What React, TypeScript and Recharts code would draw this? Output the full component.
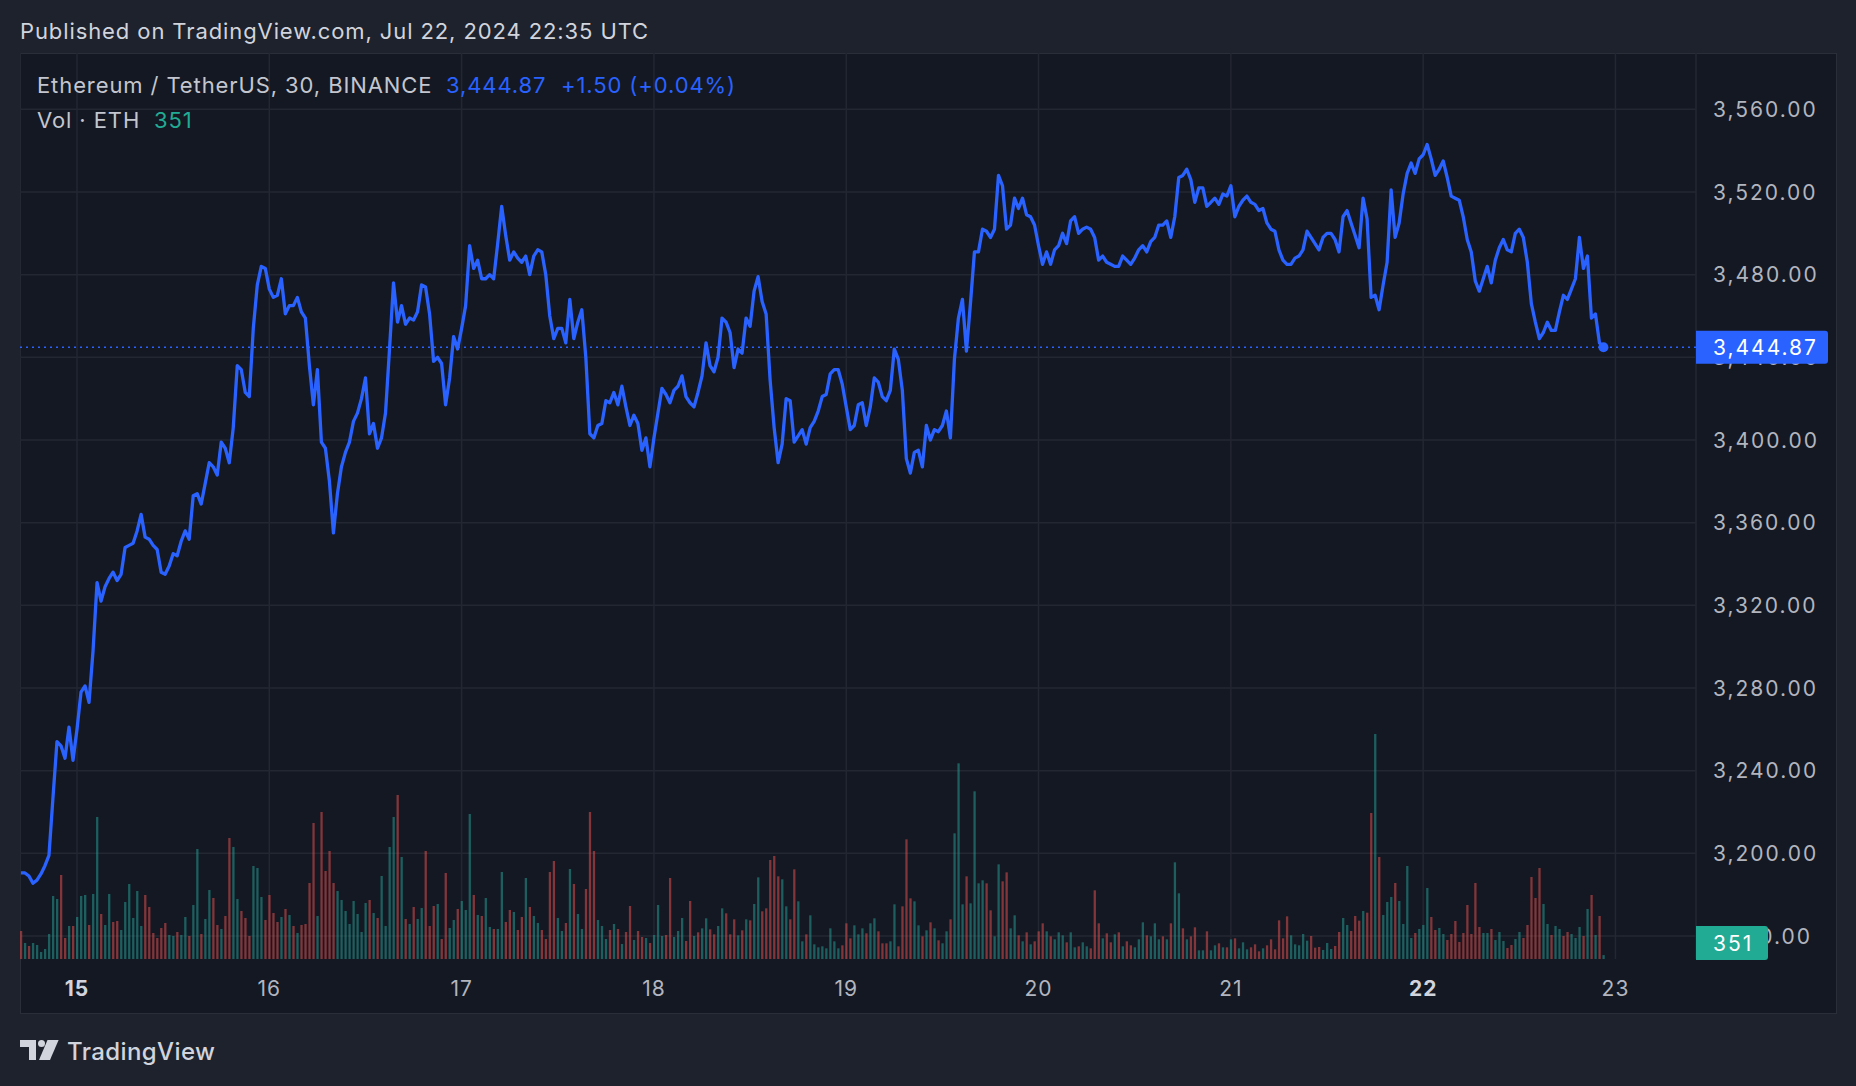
import React from "react";
import {Bar, CartesianGrid, Cell, ComposedChart, Line, ReferenceDot, ReferenceLine, XAxis, YAxis} from "recharts";

const FONT = "Inter, 'Noto Sans', sans-serif";

// 30 min bars, index 0 = Jul 15 00:00 UTC
const firstBar = -14;

const closes = [
	3190.5, 3190.5, 3189, 3185.5, 3187, 3190, 3194, 3199, 3227, 3254, 3252, 3246, 3261, 3245,
	3260, 3278, 3281, 3273, 3298, 3331, 3322, 3329, 3333, 3336,
	3332, 3335, 3348, 3349, 3350, 3356, 3364, 3353, 3352, 3349,
	3347, 3336, 3335, 3339, 3345, 3344, 3351, 3356, 3352, 3373,
	3374, 3369, 3379, 3389, 3387, 3383, 3399, 3396, 3389, 3406,
	3436, 3434, 3423, 3421, 3454, 3475, 3484, 3483, 3473, 3469,
	3470, 3478, 3461, 3465, 3465, 3469, 3462, 3459, 3436, 3417,
	3434, 3399, 3396, 3380, 3355, 3374, 3387,
	3394, 3399, 3409, 3413, 3420, 3430, 3403, 3408, 3396, 3401,
	3413, 3444, 3476, 3457, 3465, 3456, 3459, 3458, 3462, 3475,
	3474, 3461, 3438, 3440, 3437, 3417, 3430, 3450, 3444, 3454,
	3465, 3494, 3483, 3487, 3478, 3478, 3480, 3478, 3495, 3513,
	3499, 3487, 3491, 3488, 3486, 3489, 3480, 3489, 3492, 3491,
	3480, 3460, 3449, 3454, 3454, 3447, 3468, 3449, 3457, 3463,
	3440, 3403, 3401, 3407, 3408, 3419, 3418, 3423, 3417, 3426,
	3416, 3407, 3412, 3408, 3395, 3401,
	3387, 3401, 3413, 3425, 3422, 3418, 3424, 3426, 3431, 3421,
	3418, 3416, 3423, 3431, 3447, 3436, 3433, 3440, 3459, 3457,
	3452, 3435, 3444, 3442, 3459, 3455, 3472, 3479, 3467, 3461,
	3429, 3406, 3389, 3398, 3420, 3419, 3399, 3402, 3405, 3398,
	3406, 3409, 3414, 3421, 3422, 3432, 3434, 3434, 3427, 3416,
	3405, 3407, 3417, 3418, 3407, 3416, 3430, 3428, 3421, 3419,
	3424, 3444, 3439, 3424, 3391, 3384, 3394, 3395, 3387, 3407,
	3400, 3405, 3404, 3407, 3414, 3401, 3439, 3459, 3468, 3443,
	3466, 3491, 3491,
	3502, 3501, 3498, 3502, 3528, 3523, 3502, 3504, 3517, 3512,
	3517, 3509, 3508, 3504, 3494, 3485, 3491, 3485, 3492, 3494,
	3500, 3495, 3506, 3508, 3500, 3502, 3503, 3502, 3498, 3487,
	3489, 3486, 3485, 3484, 3484, 3489, 3487, 3485, 3488, 3492,
	3494, 3491, 3496, 3498, 3504, 3504, 3506, 3498, 3508, 3527,
	3528, 3531, 3526, 3515, 3522, 3522, 3513, 3515, 3517, 3514,
	3519, 3518, 3523, 3508, 3513, 3516, 3518, 3515, 3514, 3511,
	3512, 3505, 3502, 3501, 3492, 3487, 3485, 3485, 3488, 3489,
	3492, 3501, 3498, 3495, 3492, 3498, 3500, 3500, 3497, 3491,
	3508, 3511, 3505, 3499, 3493, 3517, 3507, 3469, 3470, 3463,
	3475, 3486, 3521, 3498, 3505, 3519, 3529, 3534, 3529, 3536,
	3538, 3543, 3536, 3528, 3531, 3535, 3527, 3518, 3517, 3516,
	3508, 3497, 3491, 3477, 3472, 3478, 3484, 3476, 3487, 3493,
	3497, 3492, 3491, 3500, 3502, 3498, 3486, 3466, 3457, 3449,
	3452, 3457, 3453, 3453, 3462, 3470, 3468, 3473, 3478, 3498,
	3483, 3489, 3459, 3461, 3447, 3444.87,
];

const volumes = [
	2520, 1440, 1170, 1440, 1260, 630, 900, 2250, 5670, 5400, 7560, 1890, 2970, 2970,
	3780, 5670, 5760, 3060, 5850, 12780, 4050, 3060, 5850, 3330,
	3420, 2610, 5130, 6750, 3690, 6120, 2970, 5760, 4680, 2340,
	1890, 2790, 3240, 2160, 2070, 2430, 2160, 3780, 2070, 4860,
	9900, 2250, 3600, 6210, 5490, 3060, 2700, 3870, 10890, 10080,
	5400, 4320, 3690, 2070, 8370, 8190, 5580, 3510, 5760, 4140,
	3330, 3780, 4500, 3960, 2970, 2340, 3060, 3150, 6840, 12240,
	3870, 13230, 7920, 9720, 6840, 6120, 5310, 4320, 3150, 5220,
	4050, 2430, 5040, 5310, 4140, 3690, 7470, 2970, 10080, 12780,
	14760, 9180, 3600, 3150, 4680, 3600, 4590, 9720, 2970, 4770,
	4950, 1800, 7740, 2790, 3510, 4500, 5220, 4410, 13050, 5760,
	3960, 3870, 5490, 2880, 2700, 2700, 7830, 3330, 4410, 4230,
	2610, 3780, 7290, 4680, 3870, 3240, 2610, 1800, 7830, 8820,
	3690, 2520, 3240, 8100, 6750, 4050, 2700, 6300, 13230, 9720,
	3510, 2970, 1800, 2610, 3150, 2700, 1350, 2430, 4770, 1710,
	2520, 1980, 1890, 1440, 2160, 4860, 2070, 2160, 7290, 1980,
	2520, 3690, 1620, 5220, 2070, 2400,
	2760, 3660, 2670, 2220, 2970, 4560, 4110, 2220, 3570, 2130,
	2580, 3570, 3480, 4950, 7350, 4290, 4560, 8910, 9270, 7440,
	7170, 4740, 3570, 8070, 5190, 1590, 2220, 3930, 1320, 1050,
	1140, 960, 2760, 1590, 960, 1230, 3210, 1860, 3030, 2220,
	2760, 2310, 3210, 3660, 2490, 1410, 1410, 1590, 4920, 1140,
	4740, 10770, 5460, 5190, 3030, 2040, 2580, 3300, 2760, 1680,
	1410, 2490, 3570, 11310, 17610, 4920, 7440, 5010, 15090, 6810,
	7080, 6810, 4380, 2040, 8520, 6990, 7800, 2760, 3930, 2130,
	1590, 2400, 1320, 1590, 2490, 3210, 2490, 2040, 1770, 2400,
	2130, 1500, 2400, 1050, 1140, 1500, 1140, 960, 6180, 3210,
	1860, 2310, 1500, 2220, 2400, 1140, 1590, 1230, 1050, 1770,
	3300, 2130, 2040, 3210, 1770, 2040, 1770, 3210, 8700, 5910,
	2760, 1770, 2040, 2850, 780, 780, 2490, 780, 1230, 1410,
	1050, 1050, 1770, 1860, 960, 1500, 870, 1050, 1320, 690,
	960, 1230, 1770, 870, 3480, 1860, 3840, 2130, 1320, 1230,
	2250, 1650, 2070, 1020, 1080, 810, 1440, 900, 1170, 2430,
	3690, 3060, 2520, 3870, 3450, 4320, 4170, 13140, 20250, 9180,
	3960, 5130, 5580, 6840, 5220, 3150, 8370, 1890, 2340, 2700,
	3060, 6390, 3780, 2610, 2790, 2250, 1710, 2250, 3420, 1530,
	2340, 4860, 2250, 6840, 2880, 2340, 2340, 2700, 1710, 2430,
	1620, 990, 1260, 1800, 2430, 1890, 3060, 7380, 5490, 8190,
	4950, 3150, 2160, 2970, 2700, 2070, 2430, 2250, 1890, 2880,
	2070, 4500, 5760, 2160, 3870, 351,
];

// g = up bar, r = down bar
const volSides = (
	"rgrgggggggrrgr " +
	"gggrggrggr rggggggrrr rrrggrggrg grggrrgrrg grrrgggrrr " +
	"rgrgrgrrrr grrrrggggg gggrgrgggg rgrgrggrrr grrggrgggr " +
	"grggrggrrg rrgrggrrrr ggrgrggrrr gggrgrgrrg rrgrgggrrg ggrrgr " +
	"ggrrggrrrg rgrggrrrrr ggrrggrggg gggggrrrgg grggrrrggr " +
	"rrrggrgrgr ggrgggrggg grrggrrggr grgrrrgrgg grggrggrrr " +
	"grrgrgrrgg grgggrgrgg rgrrggrggr grgrgggrrr grrrrrrggg " +
	"ggrrrgggrr ggrrrgrrgr gggrggggrg ggrrggrrrr rrrrrggrgg " +
	"grrggrrrrr ggrggrrggg rgrgrg"
).replace(/ /g, "");

const dayTicks = [0, 48, 96, 144, 192, 240, 288, 336, 384];
const dayLabels = ["15", "16", "17", "18", "19", "20", "21", "22", "23"];
const boldDays = ["15", "22"];
const priceTicks = [3160, 3200, 3240, 3280, 3320, 3360, 3400, 3440, 3480, 3520, 3560];
const lastPrice = 3444.87;
const lastVolume = 351;

const rows = closes.map((c, k) => ({
	bar: firstBar + k,
	close: c,
	volume: volumes[k],
	side: volSides[k],
}));

const CHART_W = 1817;
const CHART_H = 961;
const AXIS_W = 140;
const VOL_AXIS_W = 1;
const TIME_H = 55;
const PLOT_R = CHART_W - AXIS_W - VOL_AXIS_W;
const PLOT_B = CHART_H - TIME_H;
const LABEL_X = PLOT_R + 17;
const AXIS_SPACING = 2;

const fmtPrice = (v: number) => v.toLocaleString("en-US", {minimumFractionDigits: 2, maximumFractionDigits: 2});

// price scale labels; the last price gets the blue tag drawn over the others
const PriceTick = (props: any) => {
	const {y, payload} = props;
	if (payload.value === lastPrice) {
		const x = PLOT_R;
		return (
			<g>
				<path d={`M${x} ${y - 16.5} H${x + 129} Q${x + 132} ${y - 16.5} ${x + 132} ${y - 13.5} V${y + 13.5} Q${x + 132} ${y + 16.5} ${x + 129} ${y + 16.5} H${x} Z`}
					  fill="#2962ff"/>
				<text x={LABEL_X} y={y} dy="0.36em" fill="#ffffff" fontSize={21} fontFamily={FONT} letterSpacing={AXIS_SPACING}>
					{fmtPrice(lastPrice)}
				</text>
			</g>
		);
	}
	return (
		<text x={LABEL_X} y={y} dy="0.36em" fill="#b2b5be" fontSize={21} fontFamily={FONT} letterSpacing={AXIS_SPACING}>
			{fmtPrice(payload.value)}
		</text>
	);
};

// volume tag, kept inside the pane like TradingView does
const VolTick = (props: any) => {
	const {y} = props;
	const x = PLOT_R;
	const top = Math.min(y - 17, PLOT_B - 33);
	return (
		<g>
			<path d={`M${x} ${top} H${x + 69} Q${x + 72} ${top} ${x + 72} ${top + 3} V${top + 31} Q${x + 72} ${top + 34} ${x + 69} ${top + 34} H${x} Z`}
				  fill="#22ab94"/>
			<text x={LABEL_X} y={top + 17} dy="0.36em" fill="#ffffff" fontSize={21} fontFamily={FONT} letterSpacing={AXIS_SPACING}>
				{lastVolume}
			</text>
		</g>
	);
};

const DayTick = (props: any) => {
	const {x, payload} = props;
	const label = dayLabels[dayTicks.indexOf(payload.value)];
	const bold = boldDays.includes(label);
	return (
		<text x={x} y={PLOT_B + 29} dy="0.36em" textAnchor="middle" fill={bold ? "#d1d4dc" : "#b2b5be"}
			  fontSize={21} fontWeight={bold ? 700 : 400} fontFamily={FONT} letterSpacing={1}>
			{label}
		</text>
	);
};

const App = () => {
	const textStyle = {fontSize: 22, letterSpacing: 0.9};
	return (
		<div style={{position: "absolute", left: 0, top: 0, width: 1856, height: 1086, background: "#1e222d", overflow: "hidden"}}>
			<svg width={1856} height={1086} style={{position: "absolute", left: 0, top: 0}}>
				<rect x={20.5} y={53.5} width={1816} height={960} fill="#141823" stroke="#2a2e39"/>
			</svg>
			<div style={{position: "absolute", left: 20, top: 53}}>
				<ComposedChart width={CHART_W} height={CHART_H} data={rows} margin={{top: 0, right: 0, bottom: 0, left: 0}}>
					<CartesianGrid yAxisId="price" horizontalValues={priceTicks} stroke="#232732" strokeWidth={1.5}/>
					<XAxis dataKey="bar" type="number" domain={[-14.23, 404.1]} allowDataOverflow ticks={dayTicks}
						   interval={0} height={TIME_H} axisLine={false} tickLine={false} tick={<DayTick/>}/>
					<YAxis yAxisId="price" orientation="right" width={AXIS_W} domain={[3148.86, 3587.24]} allowDataOverflow
						   ticks={[...priceTicks, lastPrice]} interval={0} axisLine={false} tickLine={false} tick={<PriceTick/>}/>
					<YAxis yAxisId="vol" orientation="right" width={VOL_AXIS_W} domain={[0, 81540]} allowDataOverflow
						   ticks={[lastVolume]} interval={0} axisLine={false} tickLine={false} tick={<VolTick/>}/>
					<Bar yAxisId="vol" dataKey="volume" barSize={2.3} isAnimationActive={false}>
						{rows.map((r) => (
							<Cell key={r.bar} fill={r.side === "g" ? "#26a69a" : "#ef5350"} fillOpacity={0.5}/>
						))}
					</Bar>
					<ReferenceLine yAxisId="price" y={lastPrice} stroke="#2962ff" strokeWidth={1.3} strokeDasharray="2 4"/>
					<Line yAxisId="price" dataKey="close" type="linear" stroke="#2962ff" strokeWidth={3.3}
						  strokeLinejoin="round" dot={false} isAnimationActive={false}/>
					<ReferenceDot yAxisId="price" x={rows[rows.length - 1].bar} y={lastPrice} r={5}
								  fill="#2962ff" stroke="none"/>
				</ComposedChart>
			</div>
			<svg width={1856} height={1086} style={{position: "absolute", left: 0, top: 0, pointerEvents: "none"}}
				 fontFamily={FONT}>
				<text x={20} y={31} dy="0.36em" fill="#d1d4dc" {...textStyle}>
					Published on TradingView.com, Jul 22, 2024 22:35 UTC
				</text>
				<text x={37} y={85} dy="0.36em" fill="#c3c6ce" {...textStyle}>Ethereum / TetherUS, 30, BINANCE</text>
				<text x={446} y={85} dy="0.36em" fill="#2962ff" {...textStyle}>3,444.87</text>
				<text x={561} y={85} dy="0.36em" fill="#2962ff" {...textStyle}>+1.50 (+0.04%)</text>
				<text x={37} y={120} dy="0.36em" fill="#c3c6ce" {...textStyle}>Vol · ETH</text>
				<text x={154} y={120} dy="0.36em" fill="#22ab94" {...textStyle}>351</text>
				<path d="M20 1040 H36 V1060 H29 V1047 H20 Z" fill="#d1d4dc"/>
				<circle cx={41.5} cy={1043.5} r={3.5} fill="#d1d4dc"/>
				<path d="M47.5 1040 H58.6 L50 1060 H39 Z" fill="#d1d4dc"/>
				<text x={67} y={1051} dy="0.36em" fill="#d1d4dc" fontSize={24} fontWeight={500} letterSpacing={0.4}>TradingView</text>
			</svg>
		</div>
	);
};

export default App;
